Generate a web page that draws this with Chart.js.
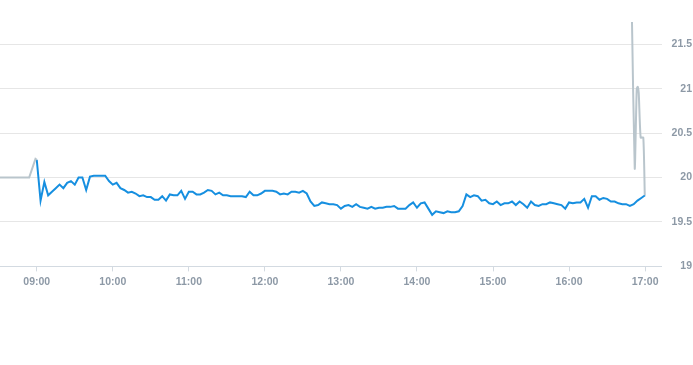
<!DOCTYPE html>
<html>
<head>
<meta charset="utf-8">
<script src="https://cdn.jsdelivr.net/npm/chart.js@4.4.1/dist/chart.umd.min.js"></script>
<style>
  html, body { margin: 0; padding: 0; background: #fff; }
  #wrap { position: relative; width: 693px; height: 292px; }
</style>
</head>
<body>
<div id="wrap"><canvas id="price"></canvas></div>
<script>
// x range and axis ticks
const axisStart = '08:31';
const axisEnd = '17:13';
const tickTimes = ['09:00', '10:00', '11:00', '12:00', '13:00', '14:00', '15:00', '16:00', '17:00'];
const yTicks = [19, 19.5, 20, 20.5, 21, 21.5];

// regular session, one sample every 3 minutes from 09:00
const sessionStart = '09:00';
const sessionStepMin = 3;
const sessionValues = [
  20.2, 19.74, 19.95, 19.8, 19.84, 19.88, 19.92, 19.88, 19.94, 19.96,
  19.92, 20.0, 20.0, 19.86, 20.01, 20.02, 20.02, 20.02, 20.02, 19.96,
  19.92, 19.94, 19.88, 19.86, 19.83, 19.84, 19.82, 19.79, 19.8, 19.78,
  19.78, 19.75, 19.75, 19.79, 19.74, 19.81, 19.8, 19.8, 19.85, 19.76,
  19.84, 19.84, 19.81, 19.81, 19.83, 19.86, 19.85, 19.81, 19.83, 19.8,
  19.8, 19.79, 19.79, 19.79, 19.79, 19.78, 19.84, 19.8, 19.8, 19.82,
  19.85, 19.85, 19.85, 19.84, 19.81, 19.82, 19.81, 19.84, 19.84, 19.83,
  19.85, 19.82, 19.73, 19.68, 19.69, 19.72, 19.71, 19.7, 19.7, 19.69,
  19.65, 19.68, 19.69, 19.67, 19.7, 19.67, 19.66, 19.65, 19.67, 19.65,
  19.66, 19.66, 19.67, 19.67, 19.68, 19.65, 19.65, 19.65, 19.69, 19.72,
  19.66, 19.71, 19.72, 19.65, 19.58, 19.62, 19.61, 19.6, 19.62, 19.61,
  19.61, 19.62, 19.68, 19.81, 19.78, 19.8, 19.79, 19.74, 19.75, 19.71,
  19.7, 19.73, 19.69, 19.71, 19.71, 19.73, 19.69, 19.73, 19.7, 19.66,
  19.73, 19.69, 19.68, 19.7, 19.7, 19.72, 19.71, 19.7, 19.69, 19.65,
  19.72, 19.71, 19.72, 19.72, 19.76, 19.66, 19.79, 19.79, 19.75, 19.77,
  19.76, 19.73, 19.73, 19.71, 19.7, 19.7, 19.68, 19.7, 19.74, 19.77,
  19.8
];

// pre-market and after-hours trades
const preTimes = ['08:30:00', '08:54:00', '08:59:00', '09:00:00'];
const preValues = [20.0, 20.0, 20.21, 20.2];
const postTimes = ['16:49:40', '16:51:50', '16:53:25', '16:54:15', '16:55:00', '16:56:30', '16:58:35', '16:59:45'];
const postValues = [21.75, 20.1, 21.0, 21.02, 20.95, 20.45, 20.45, 19.8];

function toMin(t) {
  const p = t.split(':').map(Number);
  return p[0] * 60 + p[1] + (p[2] || 0) / 60;
}
function fmt(m) {
  const h = Math.floor(m / 60), mm = Math.round(m % 60);
  return String(h).padStart(2, '0') + ':' + String(mm).padStart(2, '0');
}

const s0 = toMin(sessionStart);
const sessionPoints = sessionValues.map((v, i) => ({ x: s0 + i * sessionStepMin, y: v }));
const prePoints = preTimes.map((t, i) => ({ x: toMin(t), y: preValues[i] }));
const postPoints = postTimes.map((t, i) => ({ x: toMin(t), y: postValues[i] }));

const labelColor = '#8d99a6';
const labelFont = { family: "'Liberation Sans', Arial, sans-serif", size: 10.5, weight: 'bold' };

new Chart(document.getElementById('price'), {
  type: 'line',
  data: {
    datasets: [
      { data: prePoints, borderColor: '#b9c5cc', borderWidth: 2, pointRadius: 0, tension: 0 },
      { data: postPoints, borderColor: '#b9c5cc', borderWidth: 2, pointRadius: 0, tension: 0.2 },
      { data: sessionPoints, borderColor: '#168fe0', borderWidth: 2, pointRadius: 0, tension: 0 }
    ]
  },
  options: {
    responsive: true,
    maintainAspectRatio: false,
    animation: false,
    layout: { padding: { top: 22, left: 0, right: 1, bottom: 0 } },
    plugins: { legend: { display: false }, tooltip: { enabled: false } },
    scales: {
      x: {
        type: 'linear',
        min: toMin(axisStart),
        max: toMin(axisEnd),
        afterBuildTicks: scale => { scale.ticks = tickTimes.map(t => ({ value: toMin(t) })); },
        grid: { drawOnChartArea: false, drawTicks: true, tickLength: 5, color: '#d3dae1' },
        border: { color: '#d3dae1' },
        ticks: { color: labelColor, font: labelFont, padding: 4, maxRotation: 0, callback: v => fmt(v) }
      },
      y: {
        position: 'right',
        min: yTicks[0],
        max: Math.max(...postValues),
        afterBuildTicks: scale => { scale.ticks = yTicks.map(v => ({ value: v })); },
        grid: { color: '#e6e6e6', drawTicks: false },
        border: { display: false },
        ticks: { color: labelColor, font: labelFont, padding: 5, crossAlign: 'far', callback: v => String(v) }
      }
    }
  }
});
</script>
</body>
</html>
